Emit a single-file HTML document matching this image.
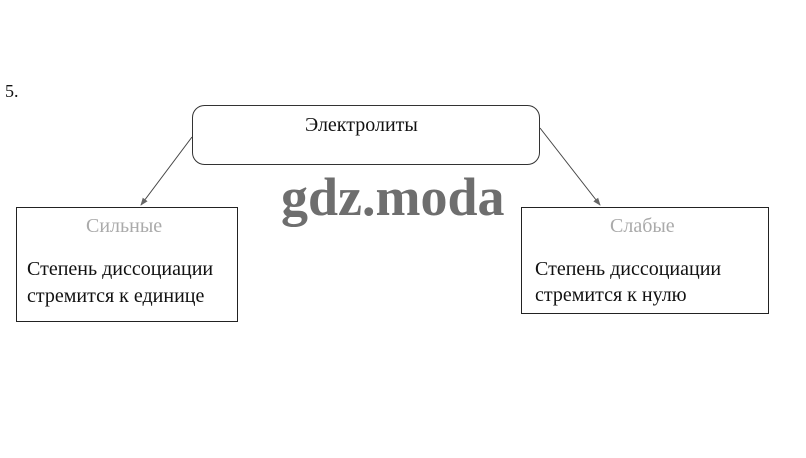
<!DOCTYPE html>
<html><head><meta charset="utf-8"><style>
html,body{margin:0;padding:0;background:#fff;}
body{width:806px;height:458px;position:relative;overflow:hidden;font-family:"Liberation Serif","DejaVu Serif",serif;color:#111;}
.t{position:absolute;white-space:nowrap;font-size:20px;}
</style></head><body>
<svg width="806" height="458" style="position:absolute;left:0;top:0">
<defs><marker id="a" markerWidth="8" markerHeight="8" refX="7" refY="4" orient="auto" markerUnits="userSpaceOnUse"><path d="M0,1 L8,4 L0,7 z" fill="#666"/></marker></defs>
<rect x="192.5" y="105.5" width="347" height="59" rx="12" fill="#fff" stroke="#333" stroke-width="1"/>
<rect x="16.5" y="207.5" width="221" height="114" fill="#fff" stroke="#222" stroke-width="1"/>
<rect x="521.5" y="207.5" width="247" height="106" fill="#fff" stroke="#222" stroke-width="1"/>
<line x1="192" y1="137" x2="141" y2="205" stroke="#444" stroke-width="1" marker-end="url(#a)"/>
<line x1="540" y1="128" x2="600" y2="205" stroke="#444" stroke-width="1" marker-end="url(#a)"/>
</svg>
<div class="t" style="left:5px;top:81px;font-size:18px">5.</div>
<div class="t" style="left:305px;top:114px">Электролиты</div>
<div class="t" style="left:86px;top:215px;color:#aaa">Сильные</div>
<div class="t" style="left:27px;top:258px">Степень диссоциации</div>
<div class="t" style="left:27px;top:285px">стремится к единице</div>
<div class="t" style="left:610px;top:215px;color:#aaa">Слабые</div>
<div class="t" style="left:535px;top:258px">Степень диссоциации</div>
<div class="t" style="left:535px;top:284px">стремится к нулю</div>
<div class="t" style="left:281px;top:166px;font-size:54px;font-weight:bold;color:#6e6e6e;letter-spacing:0px">gdz.moda</div>
</body></html>
